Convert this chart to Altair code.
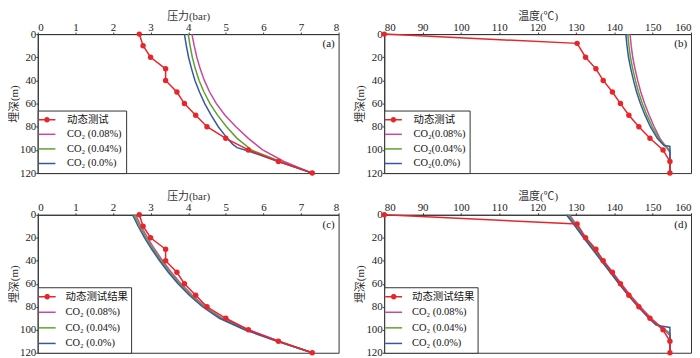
import math
import altair as alt
import pandas as pd

FONT = "'Liberation Serif', 'Times New Roman', 'Noto Sans CJK SC', serif"

# ---------------- data ----------------
# dynamic test (measured) values
obs_depth = [0, 10, 20, 30, 40, 50, 60, 70, 80, 90, 100, 110, 120]
obs_pressure = [2.7, 2.8, 3.0, 3.4, 3.4, 3.7, 3.9, 4.2, 4.5, 5.0, 5.6, 6.4, 7.3]
obs_t_depth = [0, 8, 20, 30, 40, 50, 60, 70, 80, 90, 100, 110, 120]
obs_temp = [80.0, 130.3, 132.5, 135.2, 137.1, 139.5, 141.6, 143.8, 146.4, 149.3, 152.7, 154.5, 154.5]

# (a) pressure, simulated
a_depth = [0, 10, 20, 30, 40, 50, 60, 70, 80, 90, 100, 110, 120]
a_p008 = [4.10, 4.16, 4.23, 4.32, 4.43, 4.57, 4.75, 4.98, 5.27, 5.60, 5.98, 6.55, 7.30]
a_p004 = [4.00, 4.05, 4.11, 4.19, 4.29, 4.42, 4.58, 4.78, 5.02, 5.30, 5.68, 6.45, 7.30]
a_depth0 = [0, 10, 20, 30, 40, 50, 60, 70, 80, 90, 95, 98, 101, 110, 120]
a_p000 = [3.90, 3.95, 4.01, 4.09, 4.18, 4.30, 4.44, 4.61, 4.80, 5.04, 5.18, 5.30, 5.60, 6.40, 7.30]

# (b) temperature, simulated
b_depth008 = [0, 10, 20, 30, 40, 50, 60, 70, 80, 90, 97, 102, 120]
b_t008 = [144.1, 144.4, 144.8, 145.4, 146.1, 146.9, 147.9, 149.1, 150.4, 151.9, 153.4, 154.5, 154.5]
b_depth004 = [0, 10, 20, 30, 40, 50, 60, 70, 80, 90, 97, 100, 120]
b_t004 = [143.5, 143.8, 144.2, 144.8, 145.5, 146.3, 147.3, 148.5, 149.9, 151.6, 153.3, 154.5, 154.5]
b_depth000 = [0, 10, 20, 30, 40, 50, 60, 70, 80, 90, 96, 97, 120]
b_t000 = [143.0, 143.3, 143.7, 144.3, 145.0, 145.8, 146.8, 148.0, 149.4, 151.2, 152.9, 154.5, 154.5]

# (c) pressure, simulated
c_depth = [0, 10, 20, 30, 40, 50, 60, 70, 80, 90, 100, 110, 120]
c_p008 = [2.60, 2.75, 2.92, 3.11, 3.32, 3.55, 3.81, 4.11, 4.46, 4.91, 5.60, 6.42, 7.30]
c_p004 = [2.56, 2.71, 2.88, 3.07, 3.28, 3.51, 3.77, 4.07, 4.42, 4.87, 5.55, 6.39, 7.30]
c_p000 = [2.52, 2.67, 2.84, 3.03, 3.24, 3.47, 3.73, 4.03, 4.38, 4.83, 5.50, 6.36, 7.30]

# (d) temperature, simulated
d_depth008 = [0, 10, 20, 30, 40, 50, 60, 70, 80, 90, 98, 102, 105, 120]
d_t008 = [128.3, 130.4, 132.6, 134.9, 137.2, 139.5, 141.8, 144.2, 146.8, 149.6, 152.4, 153.6, 154.5, 154.5]
d_depth004 = [0, 10, 20, 30, 40, 50, 60, 70, 80, 90, 97, 100, 103, 120]
d_t004 = [127.9, 130.1, 132.3, 134.6, 136.9, 139.2, 141.5, 143.9, 146.5, 149.3, 151.8, 153.3, 154.5, 154.5]
d_depth000 = [0, 10, 20, 30, 40, 50, 60, 70, 80, 90, 96, 98, 120]
d_t000 = [127.5, 129.8, 132.0, 134.3, 136.6, 138.9, 141.2, 143.6, 146.2, 149.0, 150.9, 154.5, 154.5]

depth_ticks = [0, 20, 40, 60, 80, 100, 120]
pressure_ticks = [0, 1, 2, 3, 4, 5, 6, 7, 8]
temp_ticks = [80, 90, 100, 110, 120, 130, 140, 150, 160]

COLORS = ["#e8262a", "#c8489c", "#5fa12e", "#3b55a5"]


def legend_shapes(unit_px):
    """Legend symbols (line, and line with dot) in Vega's [-1,1] unit space."""
    half, th, rad = 8.5 / unit_px, 0.75 / unit_px, 2.8 / unit_px
    line = "M%.3f,%.3fH%.3fV%.3fH%.3fZ" % (-half, -th, half, th, -half)
    dot = "M" + "L".join(
        "%.3f,%.3f" % (rad * math.cos(2 * math.pi * k / 16), rad * math.sin(2 * math.pi * k / 16))
        for k in range(16)) + "Z"
    return [line + dot, line, line, line]


def frame(depths, vals):
    return pd.DataFrame({"depth": depths, "val": vals, "idx": list(range(len(depths)))})


def make_panel(obs, sims, names, xdom, xticks, xtitle, tag, w, h, leg):
    xs = alt.Scale(domain=xdom, nice=False, zero=False)
    ys = alt.Scale(domain=[0, 120], reverse=True, nice=False)
    x = alt.X("val:Q", scale=xs,
              axis=alt.Axis(orient="top", values=xticks, format="d", title=xtitle))
    y = alt.Y("depth:Q", scale=ys, axis=alt.Axis(values=depth_ticks, title="埋深(m)"))

    shapes = legend_shapes(math.sqrt(leg["size"]) / 2)
    # legend-only layer (invisible marks, legend drawn from scales)
    leg_df = pd.DataFrame({"series": names, "depth": [0, 0, 0, 0],
                           "val": [obs[1][0]] + [s[1][0] for s in sims]})
    legend = alt.Legend(title=None, orient="bottom-left", offset=0,
                        direction="vertical", columns=1,
                        strokeColor="#333", fillColor="white",
                        padding=leg["padding"], rowPadding=leg["rowPadding"],
                        symbolSize=leg["size"], symbolStrokeWidth=0, symbolOpacity=1,
                        labelOffset=leg["labelOffset"], labelFont=FONT,
                        labelFontSize=leg["fs"], labelColor="#111", labelLimit=200)
    layers = [
        alt.Chart(leg_df).mark_point(filled=True, opacity=0).encode(
            x=x, y=y,
            color=alt.Color("series:N", scale=alt.Scale(domain=names, range=COLORS),
                            legend=legend),
            shape=alt.Shape("series:N", scale=alt.Scale(domain=names, range=shapes),
                            legend=legend))
    ]
    for col, (depths, vals) in zip(COLORS[1:], sims):
        layers.append(
            alt.Chart(frame(depths, vals)).mark_line(strokeWidth=1.5, color=col).encode(
                x=x, y=y, order="idx:Q"))
    obs_df = frame(obs[0], obs[1])
    layers.append(
        alt.Chart(obs_df).mark_line(strokeWidth=1.5, color=COLORS[0]).encode(
            x=x, y=y, order="idx:Q"))
    layers.append(
        alt.Chart(obs_df).mark_point(filled=True, size=30, opacity=1,
                                     color=COLORS[0]).encode(x=x, y=y))
    layers.append(
        alt.Chart(pd.DataFrame({"t": [tag]})).mark_text(
            align="right", baseline="middle", font=FONT, fontSize=11, color="#111").encode(
            x=alt.value(w - 4), y=alt.value(10), text="t:N"))
    return alt.layer(*layers).properties(width=w, height=h)


LEG_TOP = {"padding": 4, "rowPadding": 3.7, "fs": 10.5, "size": 100, "labelOffset": 15}
LEG_BOT = {"padding": 3, "rowPadding": 3.7, "fs": 10.5, "size": 169, "labelOffset": 12}

WL, WR, HT, HB = 303, 309, 140, 139

pa = make_panel(
    (obs_depth, obs_pressure),
    [(a_depth, a_p008), (a_depth, a_p004), (a_depth0, a_p000)],
    ["动态测试", "CO₂ (0.08%)", "CO₂ (0.04%)", "CO₂ (0.0%)"],
    [0, 8], pressure_ticks, "压力(bar)", "(a)", WL, HT, LEG_TOP)

pb = make_panel(
    (obs_t_depth, obs_temp),
    [(b_depth008, b_t008), (b_depth004, b_t004), (b_depth000, b_t000)],
    ["动态测试", "CO₂(0.08%)", "CO₂(0.04%)", "CO₂(0.0%)"],
    [80, 160], temp_ticks, "温度(℃)", "(b)", WR, HT, LEG_TOP)

pc = make_panel(
    (obs_depth, obs_pressure),
    [(c_depth, c_p008), (c_depth, c_p004), (c_depth, c_p000)],
    ["动态测试结果", "CO₂  (0.08%)", "CO₂  (0.04%)", "CO₂  (0.0%)"],
    [0, 8], pressure_ticks, "压力(bar)", "(c)", WL, HB, LEG_BOT)

pd_ = make_panel(
    (obs_t_depth, obs_temp),
    [(d_depth008, d_t008), (d_depth004, d_t004), (d_depth000, d_t000)],
    ["动态测试结果", "CO₂  (0.08%)", "CO₂  (0.04%)", "CO₂  (0.0%)"],
    [80, 160], temp_ticks, "温度(℃)", "(d)", WR, HB, LEG_BOT)

chart = alt.concat(pa, pb, pc, pd_, columns=2,
                   spacing=alt.RowColnumber(row=11, column=15)).resolve_scale(
    color="independent", shape="independent", x="independent", y="independent"
).resolve_legend(color="independent", shape="independent").configure(
    padding=0, font=FONT
).configure_view(
    stroke="#333", strokeWidth=1
).configure_axis(
    grid=False, domainColor="#333", tickColor="#333", tickSize=2,
    labelPadding=0, titlePadding=0, labelFont=FONT, titleFont=FONT,
    labelFontSize=11, titleFontSize=11, labelColor="#222", titleColor="#333",
    titleFontWeight="normal"
)

chart.save("out.html", embed_options={"renderer": "svg", "actions": False})
